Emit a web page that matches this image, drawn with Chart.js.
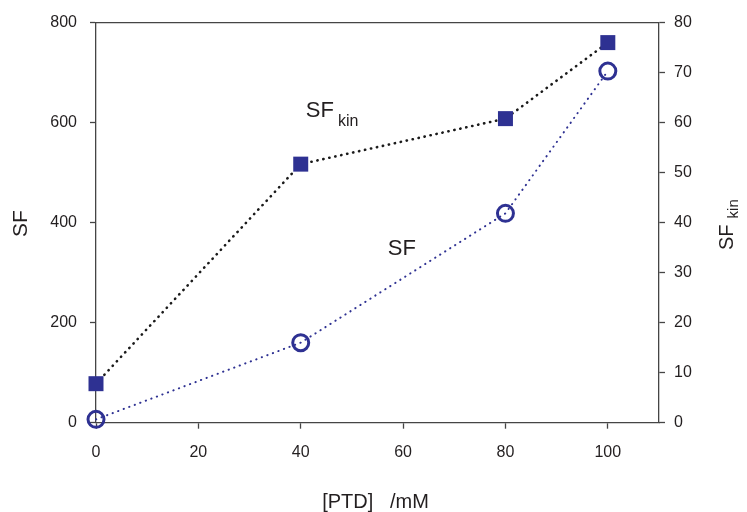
<!DOCTYPE html>
<html>
<head>
<meta charset="utf-8">
<script src="https://cdn.jsdelivr.net/npm/chart.js@4.4.1/dist/chart.umd.min.js"></script>
<style>
  html, body { margin: 0; padding: 0; background: #ffffff; }
  #wrap { width: 747px; height: 512px; }
</style>
</head>
<body>
<div id="wrap"><canvas id="c" width="747" height="512"></canvas></div>
<script>
// ---- data ----
const ptdValues = [0, 40, 80, 100];
const sfValues = [6.7, 160, 418.6, 703];
const sfKinValues = [7.8, 51.7, 60.8, 76];
const xTickValues = [0, 20, 40, 60, 80, 100];
const yTickValues = [0, 200, 400, 600, 800];
const y2TickValues = [0, 10, 20, 30, 40, 50, 60, 70, 80];
const xTitle = '[PTD]   /mM';
const yTitle = 'SF';
const y2TitleMain = 'SF';
const y2TitleSub = 'kin';
const labelTexts = [
  { main: 'SF', sub: 'kin', x: 41, y: 611 },
  { main: 'SF', sub: '', x: 57, y: 335 }
];

const ink = '#231f20';
const axisColor = '#454545';
const markerColor = '#2e3192';
const FONT = '"Liberation Sans", Arial, Helvetica, sans-serif';

const decor = {
  id: 'decor',
  afterDraw(chart) {
    const ctx = chart.ctx;
    const a = chart.chartArea;
    const xs = chart.scales.x, ys = chart.scales.y;
    ctx.save();
    // top frame line
    ctx.strokeStyle = axisColor;
    ctx.lineWidth = 1.3;
    ctx.beginPath();
    ctx.moveTo(a.left, a.top);
    ctx.lineTo(a.right, a.top);
    ctx.stroke();

    ctx.fillStyle = ink;
    ctx.textBaseline = 'alphabetic';
    // in-plot labels
    labelTexts.forEach(l => {
      const px = xs.getPixelForValue(l.x);
      const py = ys.getPixelForValue(l.y);
      ctx.textAlign = 'left';
      ctx.font = '22px ' + FONT;
      ctx.fillText(l.main, px, py);
      if (l.sub) {
        const w = ctx.measureText(l.main).width;
        ctx.font = '16px ' + FONT;
        ctx.fillText(l.sub, px + w + 4, py + 9);
      }
    });

    // x title
    ctx.font = '20px ' + FONT;
    ctx.textAlign = 'center';
    ctx.fillText(xTitle, (a.left + a.right) / 2 - 2, 508);

    // left y title
    ctx.save();
    ctx.translate(27, (a.top + a.bottom) / 2 + 1);
    ctx.rotate(-Math.PI / 2);
    ctx.font = '21px ' + FONT;
    ctx.textAlign = 'center';
    ctx.fillText(yTitle, 0, 0);
    ctx.restore();

    // right y title with subscript
    ctx.save();
    ctx.translate(733, 250);
    ctx.rotate(-Math.PI / 2);
    ctx.font = '20px ' + FONT;
    ctx.textAlign = 'left';
    ctx.fillText(y2TitleMain, 0, 0);
    const w2 = ctx.measureText(y2TitleMain).width;
    ctx.font = '15px ' + FONT;
    ctx.fillText(y2TitleSub, w2 + 6, 5);
    ctx.restore();

    ctx.restore();
  }
};

new Chart(document.getElementById('c'), {
  type: 'line',
  data: {
    datasets: [
      {
        label: 'SFkin',
        data: ptdValues.map((x, i) => ({ x: x, y: sfKinValues[i] })),
        yAxisID: 'y2',
        borderColor: '#1a1a1a',
        borderWidth: 2.6,
        borderDash: [0.3, 5.8],
        borderCapStyle: 'round',
        tension: 0,
        pointStyle: 'rect',
        pointRadius: 10.6,
        pointBackgroundColor: markerColor,
        pointBorderWidth: 0,
        pointBorderColor: markerColor,
        fill: false,
        clip: false
      },
      {
        label: 'SF',
        data: ptdValues.map((x, i) => ({ x: x, y: sfValues[i] })),
        yAxisID: 'y',
        borderColor: markerColor,
        borderWidth: 2,
        borderDash: [0.3, 5.6],
        borderCapStyle: 'round',
        tension: 0,
        pointStyle: 'circle',
        pointRadius: 8,
        pointBackgroundColor: 'rgba(0,0,0,0)',
        pointBorderWidth: 3,
        pointBorderColor: markerColor,
        fill: false,
        clip: false
      }
    ]
  },
  options: {
    responsive: false,
    animation: false,
    devicePixelRatio: 1,
    layout: { padding: { top: 17.5, left: 0, right: 0, bottom: 0 } },
    plugins: { legend: { display: false }, tooltip: { enabled: false } },
    scales: {
      x: {
        type: 'linear',
        position: 'bottom',
        min: 0, max: 110,
        afterBuildTicks: (ax) => { ax.ticks = xTickValues.map(v => ({ value: v })); },
        afterFit: (ax) => { ax.height = 89.3; },
        grid: { display: true, drawOnChartArea: false, drawTicks: true, tickLength: 6, tickColor: axisColor, tickWidth: 1.3 },
        border: { display: true, color: axisColor, width: 1.3 },
        ticks: { color: ink, font: { family: FONT, size: 16 }, padding: 14, maxRotation: 0 }
      },
      y: {
        type: 'linear',
        position: 'left',
        min: 0, max: 800,
        afterBuildTicks: (ax) => { ax.ticks = yTickValues.map(v => ({ value: v })); },
        afterFit: (ax) => { ax.width = 96; },
        grid: { display: true, drawOnChartArea: false, drawTicks: true, tickLength: 6, tickColor: axisColor, tickWidth: 1.3 },
        border: { display: true, color: axisColor, width: 1.3 },
        ticks: { color: ink, font: { family: FONT, size: 16 }, padding: 13 }
      },
      y2: {
        type: 'linear',
        position: 'right',
        min: 0, max: 80,
        afterBuildTicks: (ax) => { ax.ticks = y2TickValues.map(v => ({ value: v })); },
        afterFit: (ax) => { ax.width = 88; },
        grid: { display: true, drawOnChartArea: false, drawTicks: true, tickLength: 6, tickColor: axisColor, tickWidth: 1.3 },
        border: { display: true, color: axisColor, width: 1.3 },
        ticks: { color: ink, font: { family: FONT, size: 16 }, padding: 9 }
      }
    }
  },
  plugins: [decor]
});
</script>
</body>
</html>
